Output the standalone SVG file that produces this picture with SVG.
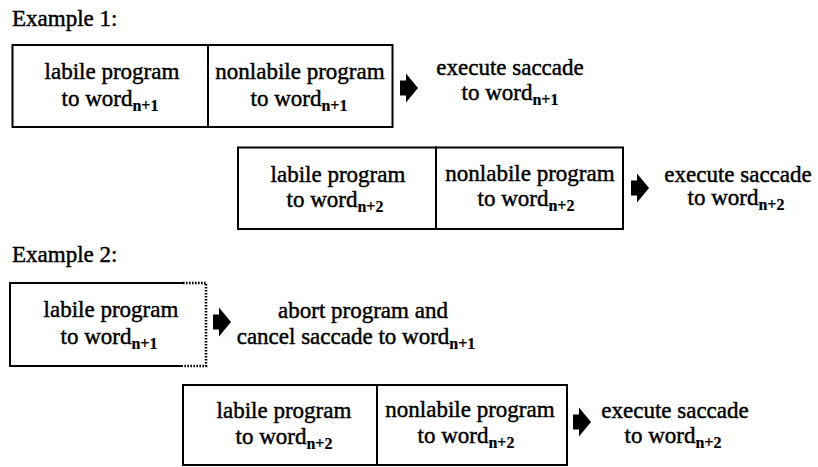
<svg xmlns="http://www.w3.org/2000/svg" xmlns:xlink="http://www.w3.org/1999/xlink" width="818" height="467" viewBox="0 0 818 467">
  <style>
    text { font-family: "Liberation Serif", "Times New Roman", serif; font-size: 23px; fill: #000; stroke: #000; stroke-width: 0.45px; }
    .mid { text-anchor: middle; }
    .sub { font-size: 16px; font-weight: bold; stroke-width: 0.2px; }
    .box { fill: #fff; stroke: #000; stroke-width: 2; }
    .line { fill: none; stroke: #000; stroke-width: 2; }
    .dots { fill: none; stroke: #000; stroke-width: 2.6; stroke-dasharray: 1.6 1.4; }
    .arrow { fill: #000; stroke: none; }
  </style>
  <defs>
    <!-- block arrow: short tail plus triangular head, origin at tail-left / centre -->
    <path id="blockArrow" d="M0,-7.5 H6 V-14.5 L18,0 L6,14.5 V7.5 H0 Z"/>
  </defs>
  <rect width="818" height="467" fill="#fff"/>

  <!-- section headings -->
  <text id="heading-1" x="12" y="26">Example 1:</text>
  <text id="heading-2" x="12" y="262">Example 2:</text>

  <!-- Example 1, first row -->
  <g id="row1-labile">
    <rect class="box" x="12.5" y="45" width="195.5" height="82"/>
    <text class="mid" x="112" y="79">labile program</text>
    <text class="mid" x="110" y="106">to word<tspan class="sub" dy="5">n+1</tspan></text>
  </g>
  <g id="row1-nonlabile">
    <rect class="box" x="208" y="45" width="184.5" height="82"/>
    <text class="mid" x="300" y="79">nonlabile program</text>
    <text class="mid" x="299" y="106">to word<tspan class="sub" dy="5">n+1</tspan></text>
  </g>
  <g id="row1-execute">
    <text class="mid" x="510" y="75">execute saccade</text>
    <text class="mid" x="510" y="100">to word<tspan class="sub" dy="5">n+1</tspan></text>
  </g>

  <!-- Example 1, second row -->
  <g id="row2-labile">
    <rect class="box" x="238" y="147.5" width="198" height="81.5"/>
    <text class="mid" x="338" y="182">labile program</text>
    <text class="mid" x="335" y="207">to word<tspan class="sub" dy="5">n+2</tspan></text>
  </g>
  <g id="row2-nonlabile">
    <rect class="box" x="436" y="147.5" width="187" height="81.5"/>
    <text class="mid" x="530" y="181">nonlabile program</text>
    <text class="mid" x="526" y="206">to word<tspan class="sub" dy="5">n+2</tspan></text>
  </g>
  <g id="row2-execute">
    <text class="mid" x="738" y="182">execute saccade</text>
    <text class="mid" x="736" y="205">to word<tspan class="sub" dy="5">n+2</tspan></text>
  </g>

  <!-- Example 2, first row: labile program cut short (dotted end) -->
  <g id="row3-labile">
    <rect x="10" y="283" width="196" height="83" fill="#fff"/>
    <path class="line" d="M183,283 H10 V366 H183"/>
    <path class="dots" d="M183,283 H206 V366 H183"/>
    <text class="mid" x="111" y="317">labile program</text>
    <text class="mid" x="109" y="344">to word<tspan class="sub" dy="5">n+1</tspan></text>
  </g>
  <g id="row3-abort">
    <text class="mid" x="363" y="318">abort program and</text>
    <text class="mid" x="356" y="344">cancel saccade to word<tspan class="sub" dy="5">n+1</tspan></text>
  </g>

  <!-- Example 2, second row -->
  <g id="row4-labile">
    <rect class="box" x="183" y="385" width="194" height="80"/>
    <text class="mid" x="284" y="418">labile program</text>
    <text class="mid" x="284" y="444">to word<tspan class="sub" dy="5">n+2</tspan></text>
  </g>
  <g id="row4-nonlabile">
    <rect class="box" x="377" y="385" width="190" height="80"/>
    <text class="mid" x="470" y="417">nonlabile program</text>
    <text class="mid" x="466" y="443">to word<tspan class="sub" dy="5">n+2</tspan></text>
  </g>
  <g id="row4-execute">
    <text class="mid" x="675" y="418">execute saccade</text>
    <text class="mid" x="673" y="443">to word<tspan class="sub" dy="5">n+2</tspan></text>
  </g>

  <!-- connectors: block arrows from programs to their outcomes -->
  <g id="connectors" class="arrow">
    <use xlink:href="#blockArrow" x="400" y="88"/>
    <use xlink:href="#blockArrow" x="631" y="188"/>
    <use xlink:href="#blockArrow" x="213" y="322"/>
    <use xlink:href="#blockArrow" x="573" y="422"/>
  </g>
</svg>
